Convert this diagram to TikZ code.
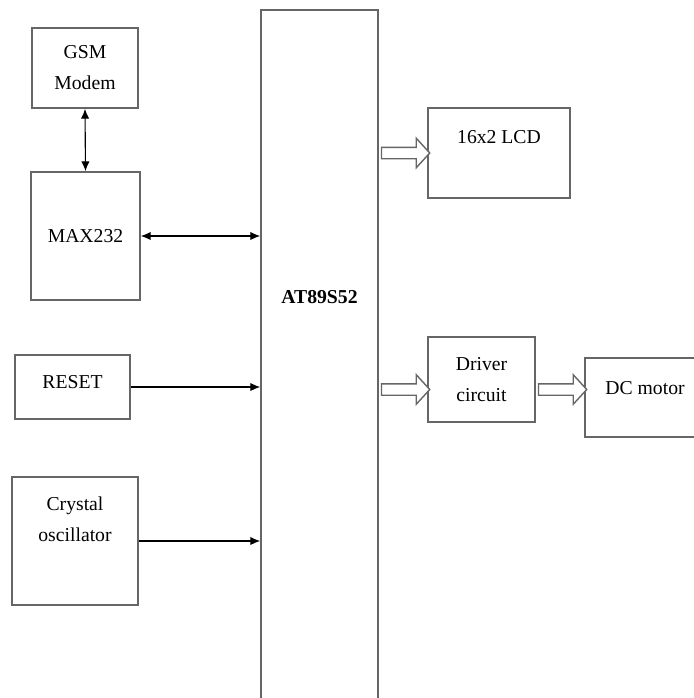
\documentclass[tikz,border=0pt]{standalone}
\usepackage{fontspec}
\setmainfont{Liberation Serif}
\usetikzlibrary{arrows.meta,calc,shapes.arrows}
\tikzset{
  every node/.style={font=\fontsize{14pt}{22pt}\selectfont},
  blk/.style={draw=black!60, line width=1.2pt, align=center, inner sep=0pt},
  sig/.style={line width=.8pt, >={Latex[length=7pt,width=6pt]}},
  hollow/.style={single arrow, draw=black!60, line width=1pt, fill=white,
    inner xsep=0pt, inner ysep=.125cm, text height=0pt, text depth=0pt,
    single arrow head extend=.225cm, single arrow tip angle=95,
    single arrow head indent=0pt},
  fat/.style={to path={let \p1=($(\tikztotarget)-(\tikztostart)$),
    \n1={veclen(\x1,\y1)} in
    node[hollow, minimum height=\n1] at ($(\tikztostart)!.5!(\tikztotarget)$) {}}}
}
\begin{document}
\begin{tikzpicture}[x=0.025cm, y=-0.025cm]
  \useasboundingbox (0,0) rectangle (694,698);
  % blocks
  \node[blk, minimum width=2.65cm, minimum height=2cm] (gsm) at (85,68) {GSM\\Modem};
  \node[blk, minimum width=2.725cm, minimum height=3.2cm] (max) at (85.5,236) {MAX232};
  \node[blk, minimum width=2.875cm, minimum height=1.6cm, text depth=.25cm] (reset) at (72.5,387) {RESET};
  \node[blk, minimum width=3.15cm, minimum height=3.2cm, text depth=1.1cm] (xtal) at (75,541) {Crystal\\oscillator};
  \node[blk, minimum width=2.925cm, minimum height=17.75cm, text depth=3.4cm,
    font=\fontsize{14pt}{22pt}\selectfont\bfseries] (mcu) at (319.5,365) {AT89S52};
  \node[blk, minimum width=3.55cm, minimum height=2.25cm, text depth=.8cm] (lcd) at (499,153) {16x2 LCD};
  \node[blk, minimum width=2.675cm, minimum height=2.125cm] (drv) at (481.5,379.5) {Driver\\circuit};
  \node[blk, minimum width=3cm, minimum height=1.975cm, text depth=.5cm] (dc) at (645,397.5) {DC motor};
  % signal lines
  \draw[sig, <->] (gsm.south) -- (max.north);
  \draw[sig, <->] (max.east) -- (mcu.west |- max.east);
  \draw[sig, ->] (reset.east) -- (mcu.west |- reset.east);
  \draw[sig, ->] (xtal.east) -- (mcu.west |- xtal.east);
  % outputs
  \coordinate (drvin) at ($(drv.west)+(0,10)$);
  \coordinate (drvout) at ($(drv.east)+(0,10)$);
  \draw[fat] (mcu.east |- lcd.west) to (lcd.west);
  \draw[fat] (mcu.east |- drvin) to (drvin);
  \draw[fat] (drvout) to (dc.west |- drvout);
\end{tikzpicture}
\end{document}
